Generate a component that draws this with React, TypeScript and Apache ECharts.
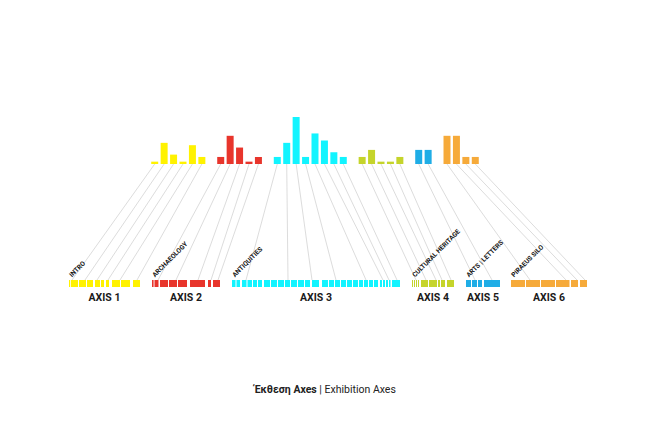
import React, { useEffect, useRef } from "react";
import * as echarts from "echarts";

// Exhibition sections, one per axis
const sectionNames = ["INTRO", "ARCHAEOLOGY", "ANTIQUITIES", "CULTURAL HERITAGE", "ARTS | LETTERS", "PIRAEUS SILO"];
const axisNames = ["AXIS 1", "AXIS 2", "AXIS 3", "AXIS 4", "AXIS 5", "AXIS 6"];
const sectionColors = ["#FFF200", "#E8352C", "#12F4FF", "#C5D42B", "#1FADE6", "#F6AA3A"];

// Number of exhibits in each room group of a section
const exhibitCounts = [
  [1, 9, 4, 1, 8, 3],
  [3, 12, 7, 1, 3],
  [3, 9, 20, 3, 13, 10, 5, 3],
  [3, 6, 1, 1, 3],
  [6, 6],
  [12, 12, 3, 3],
];

// Rooms along each axis, [from, to] on the gallery ruler
const roomSpans: [number, number][][] = [
  [[69, 70.2], [71, 78], [79, 86], [87, 93], [95, 100], [101, 104], [106, 109], [112, 120], [121, 130], [133, 140]],
  [[152, 153.6], [154.5, 158.5], [160, 168], [169, 177], [178, 187], [190, 205], [208, 211], [213, 220]],
  [
    [232, 235.5], [236.5, 240], [242, 246.5], [247.5, 252], [253, 257], [258, 262],
    [264, 270], [271, 277], [278, 284], [285, 290], [291, 297], [298, 304], [305, 310],
    [312, 319], [322, 328], [329, 334], [335, 340], [341, 346], [347, 352],
    [353, 358], [359, 363], [364, 368], [369, 373], [374, 378],
    [380, 382], [383, 385], [386, 388], [389, 390.5], [392, 400],
  ],
  [[412, 413], [414, 415], [416, 417], [418, 419], [421, 428], [429, 437], [438, 440], [441, 445], [447, 454]],
  [[466, 471], [472, 477], [478, 482], [484, 500]],
  [[511, 525], [526, 540], [541, 555], [556, 569.5], [571, 578], [580, 587]],
];

// Ruler position each room group links to
const linkTargets = [
  [72, 85, 97, 108, 120, 137],
  [158, 176, 198, 211, 218],
  [246, 288, 312, 336, 366, 383, 389, 397],
  [416, 426, 436, 442, 451],
  [475, 492],
  [530, 566, 577, 585],
];

const FONT = "Roboto, 'DejaVu Sans', sans-serif";

export default function App() {
  const ref = useRef<HTMLDivElement>(null);

  useEffect(() => {
    if (!ref.current) return;
    const chart = echarts.init(ref.current, undefined, { renderer: "svg" });

    // one category slot per room group, with an empty slot between sections
    const categories: string[] = [];
    const barData: any[] = [];
    const slotOf: number[][] = [];
    exhibitCounts.forEach((vals, g) => {
      if (g > 0) {
        categories.push(`gap ${g}`);
        barData.push("-");
      }
      slotOf.push([]);
      vals.forEach((v, i) => {
        slotOf[g].push(categories.length);
        categories.push(`${sectionNames[g]} ${i + 1}`);
        barData.push({ value: v, itemStyle: { color: sectionColors[g] } });
      });
    });

    chart.setOption({
      animation: false,
      backgroundColor: "#ffffff",
      title: {
        text: "{b|Έκθεση Axes} | Exhibition Axes",
        left: "center",
        top: 379,
        textStyle: {
          fontSize: 10.5,
          fontWeight: "normal",
          color: "#222222",
          fontFamily: FONT,
          rich: {
            b: { fontSize: 10.5, fontWeight: "bold", color: "#222222", fontFamily: FONT },
          },
        },
      },
      grid: [
        { left: 150, width: 330, top: 117, height: 47 },
        { left: 0, width: 650, top: 280, height: 7 },
      ],
      xAxis: [
        { type: "category", gridIndex: 0, data: categories, show: false },
        { type: "value", gridIndex: 1, min: 0, max: 650, show: false },
      ],
      yAxis: [
        { type: "value", gridIndex: 0, min: 0, max: 20, show: false },
        { type: "value", gridIndex: 1, min: 0, max: 1, show: false },
      ],
      series: [
        {
          type: "bar",
          xAxisIndex: 0,
          yAxisIndex: 0,
          data: barData,
          barWidth: 7,
          z: 3,
        },
        {
          type: "custom",
          xAxisIndex: 1,
          yAxisIndex: 1,
          z: 3,
          data: roomSpans.map((_, g) => [g]),
          renderItem: (params: any, api: any) => {
            const g = api.value(0);
            const spans = roomSpans[g];
            const children: any[] = spans.map(([a, b]) => {
              const p0 = api.coord([a, 1]);
              const p1 = api.coord([b, 0]);
              return {
                type: "rect",
                shape: { x: p0[0], y: p0[1], width: p1[0] - p0[0], height: p1[1] - p0[1] },
                style: { fill: sectionColors[g] },
              };
            });
            const start = api.coord([spans[0][0], 1]);
            const end = api.coord([spans[spans.length - 1][1], 0]);
            children.push({
              type: "text",
              x: start[0] + 4,
              y: start[1] - 1.5,
              rotation: Math.PI / 4,
              style: {
                text: sectionNames[g],
                x: 0,
                y: 0,
                align: "left",
                verticalAlign: "bottom",
                fontSize: 6.6,
                fontWeight: "bold",
                fontFamily: FONT,
                fill: "#111111",
              },
            });
            children.push({
              type: "text",
              x: (start[0] + end[0]) / 2,
              y: end[1] + 10.5,
              style: {
                text: axisNames[g],
                x: 0,
                y: 0,
                align: "center",
                verticalAlign: "middle",
                fontSize: 10.5,
                fontWeight: "bold",
                fontFamily: FONT,
                fill: "#1a1a1a",
              },
            });
            return { type: "group", children };
          },
        },
      ],
    });

    // connector lines from each bar foot to its room on the ruler
    const lines: any[] = [];
    exhibitCounts.forEach((vals, g) =>
      vals.forEach((_, i) => {
        const from = chart.convertToPixel({ gridIndex: 0 }, [slotOf[g][i], 0]) as number[];
        const to = chart.convertToPixel({ gridIndex: 1 }, [linkTargets[g][i], 1]) as number[];
        lines.push({
          type: "line",
          silent: true,
          z: 0,
          shape: { x1: from[0], y1: from[1], x2: to[0], y2: to[1] },
          style: { stroke: "#c4c4c4", lineWidth: 0.6 },
        });
      })
    );
    chart.setOption({ graphic: { elements: lines } });

    return () => chart.dispose();
  }, []);

  return (
    <div
      ref={ref}
      style={{ position: "fixed", left: 0, top: 0, width: 650, height: 437, background: "#fff" }}
    />
  );
}
